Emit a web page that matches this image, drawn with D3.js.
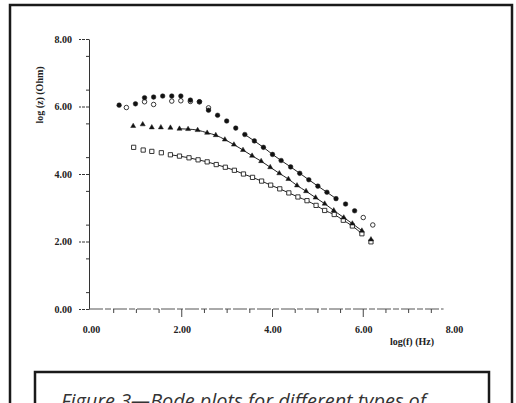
<!DOCTYPE html>
<html>
<head>
<meta charset="utf-8">
<script src="https://cdn.jsdelivr.net/npm/d3@7"></script>
<style>
    body { margin: 0; background: #fff; }
    .tick text { font-family: "Liberation Serif", serif; font-weight: bold; font-size: 10px; fill: #222; }
</style>
</head>
<body>
<div id="chart"></div>
<script>
// Data (log f in Hz, log |z| in Ohm)
var filledCircleX = [0.62, 0.98, 1.18, 1.38, 1.58, 1.78, 1.98, 2.19, 2.39, 2.59, 2.79, 2.99, 3.19, 3.39, 3.60, 3.80, 4.00, 4.19, 4.40, 4.60, 4.80, 5.00, 5.20, 5.40, 5.61, 5.81];
var filledCircleY = [6.04, 6.08, 6.26, 6.28, 6.31, 6.31, 6.31, 6.19, 6.14, 5.89, 5.74, 5.57, 5.36, 5.17, 4.98, 4.79, 4.58, 4.40, 4.21, 4.02, 3.83, 3.64, 3.46, 3.27, 3.11, 2.91];

var openCircleX = [0.78, 1.18, 1.38, 1.78, 1.98, 2.19, 2.39, 2.59, 6.00, 6.21];
var openCircleY = [5.97, 6.14, 6.06, 6.16, 6.17, 6.15, 6.14, 5.96, 2.71, 2.49];

var triangleX = [0.93, 1.14, 1.34, 1.54, 1.75, 1.95, 2.14, 2.35, 2.56, 2.75, 2.95, 3.15, 3.35, 3.55, 3.75, 3.95, 4.15, 4.35, 4.54, 4.74, 4.95, 5.15, 5.35, 5.57, 5.76, 5.97, 6.17];
var triangleY = [5.42, 5.47, 5.38, 5.38, 5.37, 5.34, 5.33, 5.30, 5.22, 5.15, 5.02, 4.87, 4.71, 4.54, 4.38, 4.20, 4.02, 3.85, 3.66, 3.49, 3.30, 3.12, 2.92, 2.71, 2.53, 2.32, 2.06];

var squareX = [0.94, 1.15, 1.34, 1.55, 1.75, 1.95, 2.16, 2.36, 2.56, 2.76, 2.96, 3.16, 3.36, 3.56, 3.76, 3.96, 4.16, 4.36, 4.56, 4.76, 4.96, 5.15, 5.36, 5.56, 5.76, 5.97, 6.17];
var squareY = [4.79, 4.71, 4.67, 4.63, 4.57, 4.53, 4.48, 4.42, 4.36, 4.28, 4.20, 4.11, 4.00, 3.90, 3.79, 3.67, 3.56, 3.44, 3.32, 3.21, 3.07, 2.92, 2.80, 2.63, 2.46, 2.23, 1.99];

// x ranges covered by the fitted lines
var filledCircleFit = [3.3, 5.5];
var triangleFit = [1.9, 6.0];
var squareFit = [1.7, 6.0];

var xTickValues = [0, 2, 4, 6, 8];
var yTickValues = [0, 2, 4, 6, 8];
var xLabel = "log(f) (Hz)";
var yLabel = "log (z) (Ohm)";
var caption = "Figure 3\u2014Bode plots for different types of";


BodePlot = function(_parentElement) {
    vis = this;

    this.parentElement = _parentElement;
    this.svgWidth = 516;
    this.svgHeight = 403;
    this.plot = { left: 91, right: 454, top: 39, bottom: 309 };

    this.initVis();
};

BodePlot.prototype.initVis = function() {
    vis = this;

    vis.svg = d3.select("#" + vis.parentElement).append("svg")
        .attr("width", vis.svgWidth)
        .attr("height", vis.svgHeight);

    vis.svg.append("rect")
        .attr("width", vis.svgWidth)
        .attr("height", vis.svgHeight)
        .attr("fill", "#fff");

    vis.x = d3.scaleLinear()
        .domain([0, 8])
        .range([vis.plot.left, vis.plot.right]);

    vis.y = d3.scaleLinear()
        .domain([0, 8])
        .range([vis.plot.bottom, vis.plot.top]);

    vis.drawFrame();
    vis.drawAxes();
    vis.drawSeries();
};

BodePlot.prototype.drawFrame = function() {
    vis = this;

    // outer page border
    vis.svg.append("rect")
        .attr("x", 10).attr("y", 5)
        .attr("width", 502).attr("height", 430)
        .attr("fill", "none")
        .attr("stroke", "#1a1a1a")
        .attr("stroke-width", 2.5);

    // caption box (runs off the bottom like the scan)
    vis.svg.append("rect")
        .attr("x", 35).attr("y", 372)
        .attr("width", 454).attr("height", 60)
        .attr("fill", "none")
        .attr("stroke", "#1a1a1a")
        .attr("stroke-width", 2.5);

    vis.svg.append("text")
        .attr("x", 61)
        .attr("y", 408)
        .attr("font-family", "'Open Sans', sans-serif")
        .attr("font-style", "italic")
        .attr("font-size", 20)
        .attr("fill", "#333")
        .attr("textLength", 365)
        .attr("lengthAdjust", "spacingAndGlyphs")
        .text(caption);
};

BodePlot.prototype.drawAxes = function() {
    vis = this;

    // y axis: major ticks with labels, minor ticks every 0.5
    var yMajor = d3.axisLeft(vis.y)
        .tickValues(yTickValues)
        .tickSize(10)
        .tickSizeOuter(0)
        .tickPadding(7)
        .tickFormat(d3.format(".2f"));

    var yMinor = d3.axisLeft(vis.y)
        .tickValues(d3.range(0.5, 8, 1))
        .tickSize(3)
        .tickSizeOuter(0)
        .tickFormat("");

    vis.svg.append("g")
        .attr("class", "y-axis axis")
        .attr("transform", "translate(" + (vis.plot.left - 2) + ",0)")
        .call(yMajor);

    vis.svg.append("g")
        .attr("class", "y-axis-minor axis")
        .attr("transform", "translate(" + (vis.plot.left - 2) + ",0)")
        .call(yMinor)
        .select(".domain").remove();

    vis.svg.selectAll(".y-axis .domain, .y-axis .tick line, .y-axis-minor .tick line")
        .attr("stroke", "#333");
    vis.svg.selectAll(".y-axis .tick line")
        .attr("stroke-dasharray", "3,1");

    // x axis line
    var xLine = vis.svg.append("g")
        .attr("class", "x-axis axis");

    xLine.append("line")
        .attr("x1", vis.x(0) - 2)
        .attr("x2", vis.x(7.77))
        .attr("y1", vis.plot.bottom)
        .attr("y2", vis.plot.bottom)
        .attr("stroke", "#555")
        .attr("stroke-dasharray", "14,2,6,2");

    // x ticks every 0.5, longer on the majors
    var xMinor = d3.range(0.5, 7.75, 0.5);
    xLine.selectAll("line.xtick")
        .data(xMinor)
        .enter()
        .append("line")
        .attr("class", "xtick")
        .attr("x1", function(d) { return vis.x(d); })
        .attr("x2", function(d) { return vis.x(d); })
        .attr("y1", vis.plot.bottom)
        .attr("y2", function(d) { return vis.plot.bottom + (d % 2 === 0 ? 8 : 4); })
        .attr("stroke", "#444");

    var xLabels = d3.axisBottom(vis.x)
        .tickValues(xTickValues)
        .tickSize(0)
        .tickPadding(17)
        .tickFormat(d3.format(".2f"));

    vis.svg.append("g")
        .attr("class", "x-axis-labels axis")
        .attr("transform", "translate(0," + vis.plot.bottom + ")")
        .call(xLabels)
        .select(".domain").remove();

    // Axis titles
    vis.svg.append("text")
        .attr("x", 412)
        .attr("y", 345)
        .attr("text-anchor", "middle")
        .attr("font-family", "'Liberation Serif', serif")
        .attr("font-weight", "bold")
        .attr("font-size", 10)
        .attr("fill", "#222")
        .text(xLabel);

    vis.svg.append("text")
        .attr("transform", "translate(43,95) rotate(270)")
        .attr("text-anchor", "middle")
        .attr("font-family", "'Liberation Serif', serif")
        .attr("font-weight", "bold")
        .attr("font-size", 10)
        .attr("fill", "#222")
        .text(yLabel);
};

BodePlot.prototype.drawSeries = function() {
    vis = this;

    var zip = function(xs, ys) {
        return xs.map(function(d, i) { return { x: d, y: ys[i] }; });
    };

    var line = d3.line()
        .x(function(d) { return vis.x(d.x); })
        .y(function(d) { return vis.y(d.y); })
        .curve(d3.curveMonotoneX);

    var series = [
        { data: zip(squareX, squareY), fit: squareFit, symbol: d3.symbolSquare, size: 18, fill: "#fff", stroke: 0.9 },
        { data: zip(triangleX, triangleY), fit: triangleFit, symbol: d3.symbolTriangle, size: 11, fill: "#111", stroke: 0.5 },
        { data: zip(openCircleX, openCircleY), fit: null, symbol: d3.symbolCircle, size: 16, fill: "#fff", stroke: 0.9 },
        { data: zip(filledCircleX, filledCircleY), fit: filledCircleFit, symbol: d3.symbolCircle, size: 17, fill: "#111", stroke: 0.5 }
    ];

    series.forEach(function(s, k) {
        if (s.fit) {
            vis.svg.append("path")
                .datum(s.data.filter(function(d) { return d.x >= s.fit[0] && d.x <= s.fit[1]; }))
                .attr("fill", "none")
                .attr("stroke", "#222")
                .attr("stroke-width", 1)
                .attr("d", line);
        }

        vis.svg.append("g")
            .attr("class", "series-" + k)
            .selectAll("path")
            .data(s.data)
            .enter()
            .append("path")
            .attr("transform", function(d) { return "translate(" + vis.x(d.x) + "," + vis.y(d.y) + ")"; })
            .attr("d", d3.symbol().type(s.symbol).size(s.size))
            .attr("fill", s.fill)
            .attr("stroke", "#222")
            .attr("stroke-width", s.stroke);
    });
};

new BodePlot("chart");
</script>
</body>
</html>
